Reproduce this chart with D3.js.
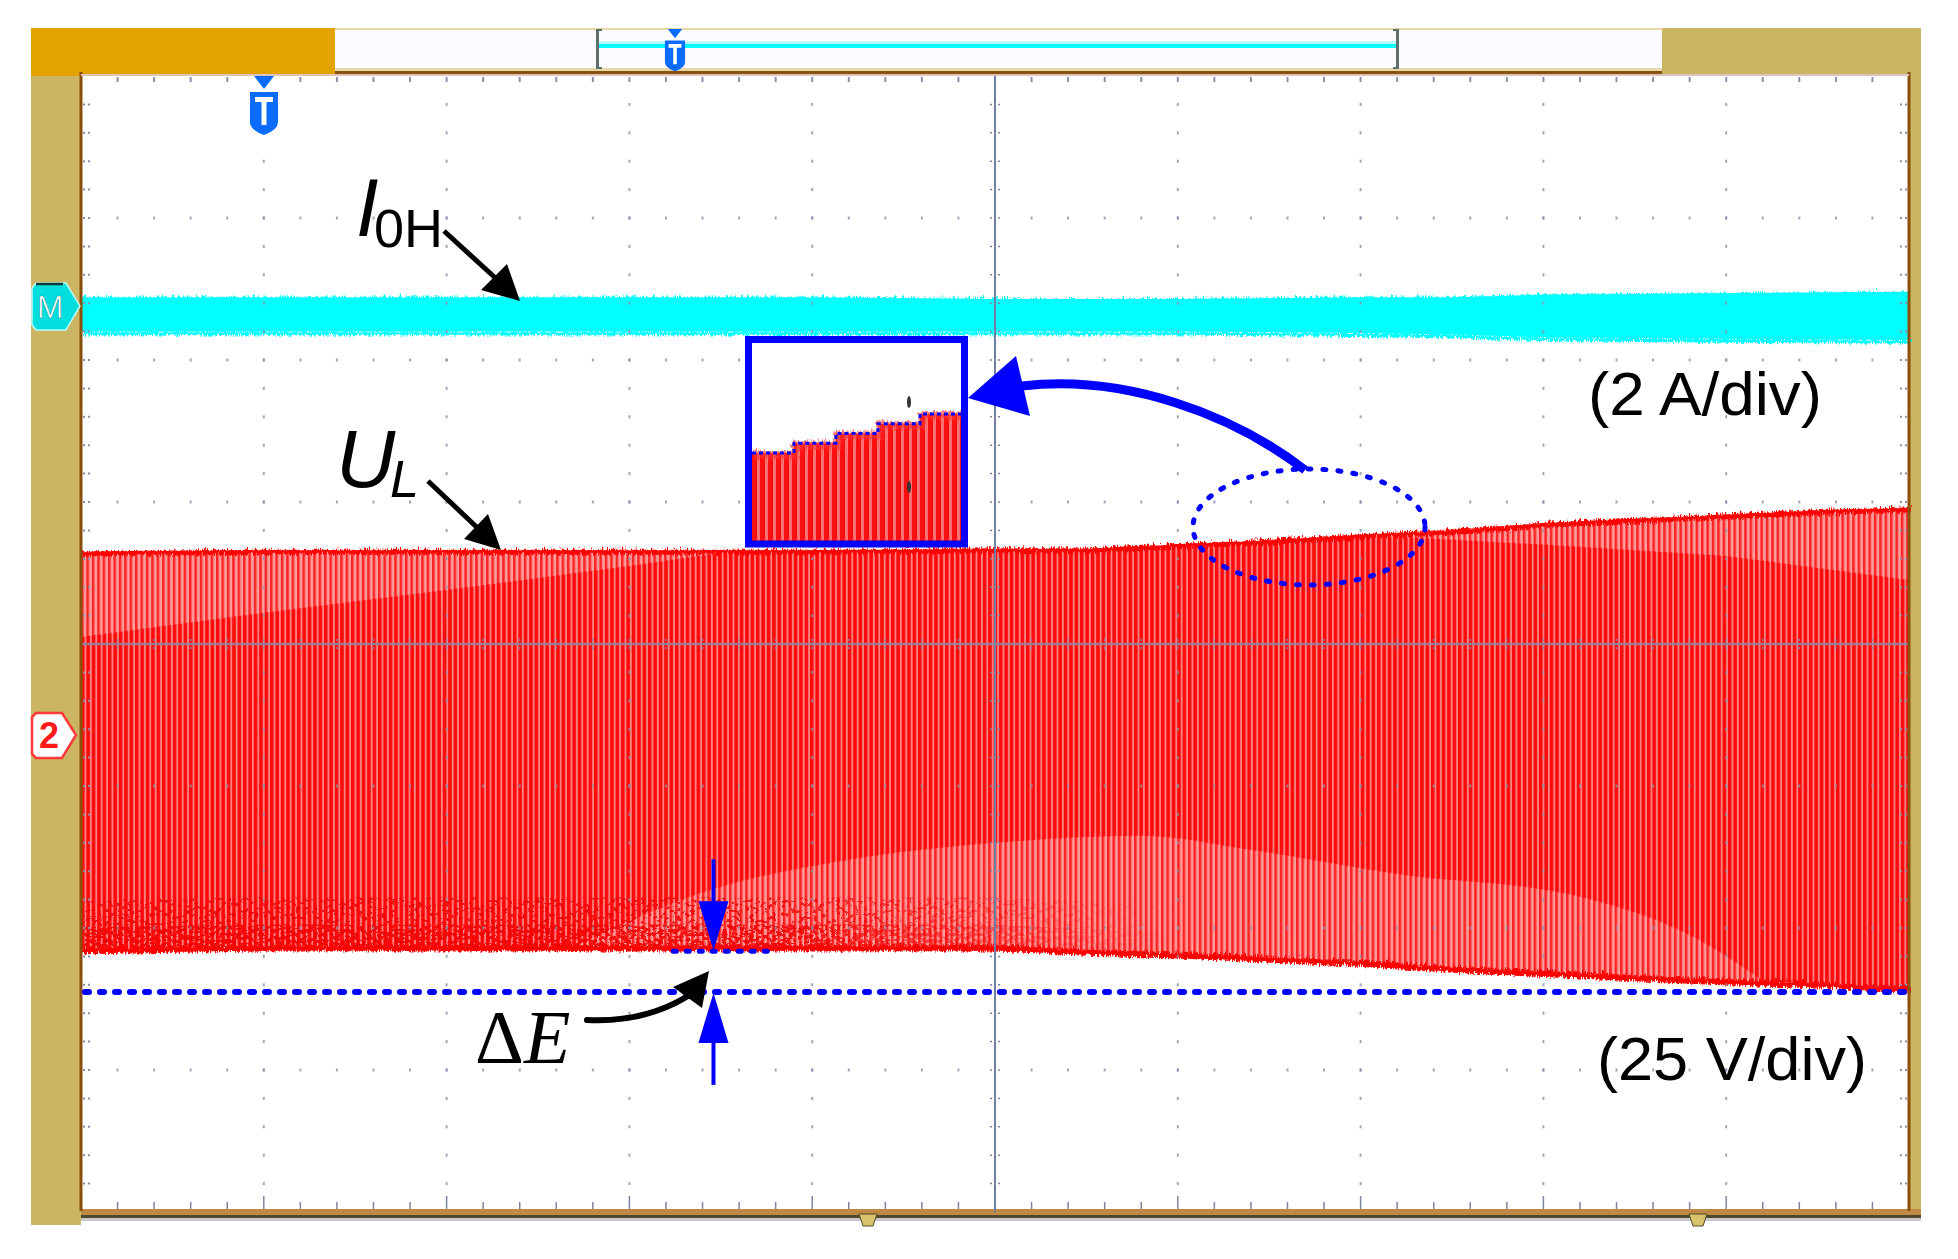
<!DOCTYPE html>
<html>
<head>
<meta charset="utf-8">
<script src="https://cdn.jsdelivr.net/npm/d3@7/dist/d3.min.js"></script>
<style>
body { margin: 0; background: #fff; }
svg { display: block; }
</style>
</head>
<body>
<script>
// scope screen is 10 x 8 divisions, all values read off the picture in divisions
// time in div (0..10), level in div from the centre line (+ is up)

// I0H trace (cyan band), 2 A/div
var iTime = [0, 1, 2, 3, 4, 5, 6, 7, 7.5, 8, 9, 10]
var iUpper = [2.44, 2.44, 2.44, 2.44, 2.44, 2.43, 2.43, 2.44, 2.44, 2.46, 2.47, 2.48]
var iLower = [2.20, 2.20, 2.20, 2.20, 2.20, 2.20, 2.20, 2.19, 2.18, 2.16, 2.15, 2.14]

// UL trace (red band), 25 V/div
var uTime = [0, 1, 2, 3, 4, 5, 5.5, 6, 6.5, 7, 7.5, 8, 8.5, 9, 9.5, 10]
var uUpper = [0.65, 0.66, 0.66, 0.66, 0.66, 0.67, 0.67, 0.70, 0.73, 0.77, 0.80, 0.85, 0.88, 0.91, 0.94, 0.96]
var uLower = [-2.15, -2.13, -2.13, -2.13, -2.13, -2.13, -2.16, -2.18, -2.21, -2.24, -2.28, -2.31, -2.34, -2.37, -2.39, -2.42]

// lighter (sparse) parts of the UL band
var lightTopTime = [0, 1, 2, 3, 3.6]
var lightTopLower = [0.05, 0.22, 0.38, 0.55, 0.66]
var lightRightTime = [7.0, 8.0, 9.0, 10]
var lightRightLower = [0.77, 0.70, 0.62, 0.45]
var lightMidTime = [2.7, 3.4, 4.2, 5.0, 5.8, 6.4, 7.2, 8.2, 8.8, 9.2]
var lightMidUpper = [-2.13, -1.75, -1.52, -1.40, -1.35, -1.45, -1.62, -1.78, -2.05, -2.37]

// dE markers
var dEupper = -2.15, dElower = -2.45, dETime = 3.46, dEFrom = 3.24, dETo = 3.77

// zoomed inset: step levels
var insetLevel = [0, 1, 2, 3, 4]

var W = 1958, H = 1259
var plot = {left: 81, top: 76, right: 1909, bottom: 1212}

var x = d3.scaleLinear().domain([0, 10]).range([plot.left, plot.right])
var y = d3.scaleLinear().domain([-4, 4]).range([plot.bottom, plot.top])

var svg = d3.select("body").append("svg").attr("width", W).attr("height", H)
var defs = svg.append("defs")

var stripes = defs.append("pattern").attr("id", "ulStripes")
    .attr("patternUnits", "userSpaceOnUse").attr("width", 5.4).attr("height", 20)
stripes.append("rect").attr("width", 5.4).attr("height", 20).attr("fill", "#ff8080")
stripes.append("rect").attr("width", 3.5).attr("height", 20).attr("fill", "#ff0a0a")

var light = defs.append("pattern").attr("id", "ulLight")
    .attr("patternUnits", "userSpaceOnUse").attr("width", 5.4).attr("height", 20)
light.append("rect").attr("width", 5.4).attr("height", 20).attr("fill", "#ffa6a6")
light.append("rect").attr("width", 2.4).attr("height", 20).attr("fill", "#ff2a2a")

var inStripes = defs.append("pattern").attr("id", "inStripes")
    .attr("patternUnits", "userSpaceOnUse").attr("width", 8).attr("height", 20)
inStripes.append("rect").attr("width", 8).attr("height", 20).attr("fill", "#ff7070")
inStripes.append("rect").attr("width", 5).attr("height", 20).attr("fill", "#ff1010")

var rough = defs.append("filter").attr("id", "rough")
    .attr("filterUnits", "userSpaceOnUse").attr("x", 0).attr("y", 0).attr("width", W).attr("height", H)
rough.append("feTurbulence").attr("type", "turbulence").attr("baseFrequency", "0.45 0.12")
    .attr("numOctaves", 2).attr("seed", 4).attr("result", "n")
rough.append("feDisplacementMap").attr("in", "SourceGraphic").attr("in2", "n")
    .attr("scale", 7).attr("xChannelSelector", "R").attr("yChannelSelector", "G")

// speckled noise on the lower edge of UL (dense and sparse variant)
function speckleFilter(id, seed, cut) {
    var f = defs.append("filter").attr("id", id)
        .attr("filterUnits", "userSpaceOnUse").attr("x", 0).attr("y", 0).attr("width", W).attr("height", H)
    f.append("feTurbulence").attr("type", "fractalNoise").attr("baseFrequency", "0.22 0.3")
        .attr("numOctaves", 2).attr("seed", seed).attr("result", "n")
    f.append("feColorMatrix").attr("in", "n").attr("type", "matrix")
        .attr("values", "0 0 0 0 0  0 0 0 0 0  0 0 0 0 0  6 0 0 0 " + (-6 * cut + 0.5)).attr("result", "a")
    f.append("feComponentTransfer").attr("in", "a").attr("result", "b")
        .append("feFuncA").attr("type", "discrete").attr("tableValues", "0 1")
    f.append("feComposite").attr("in", "SourceGraphic").attr("in2", "b").attr("operator", "in")
}
speckleFilter("speckleDense", 5, 0.5)
speckleFilter("speckleSparse", 9, 0.6)

// the noise fades out towards the middle of the screen
var fade = defs.append("linearGradient").attr("id", "fadeGrad")
    .attr("gradientUnits", "userSpaceOnUse").attr("x1", x(3.8)).attr("x2", x(6)).attr("y1", 0).attr("y2", 0)
fade.append("stop").attr("offset", 0).attr("stop-color", "#fff")
fade.append("stop").attr("offset", 1).attr("stop-color", "#000")
defs.append("mask").attr("id", "fadeMask").attr("maskUnits", "userSpaceOnUse")
    .attr("x", 0).attr("y", 0).attr("width", W).attr("height", H)
    .append("rect").attr("width", W).attr("height", H).attr("fill", "url(#fadeGrad)")

// ---------- frame ----------
var frame = svg.append("g")
frame.append("rect").attr("x", 31).attr("y", 28).attr("width", 50).attr("height", 1197).attr("fill", "#cbb563")
frame.append("rect").attr("x", 1662).attr("y", 28).attr("width", 259).attr("height", 48).attr("fill", "#cbb563")
frame.append("rect").attr("x", 1909).attr("y", 28).attr("width", 12).attr("height", 1188).attr("fill", "#cbb563")
frame.append("rect").attr("x", 31).attr("y", 28).attr("width", 304).attr("height", 48).attr("fill", "#e2a200")
frame.append("rect").attr("x", 335).attr("y", 28).attr("width", 1327).attr("height", 48).attr("fill", "#e6d7a6")
frame.append("rect").attr("x", 335).attr("y", 30).attr("width", 1327).attr("height", 38).attr("fill", "#fdfbff")
frame.append("rect").attr("x", 81).attr("y", 1209).attr("width", 1840).attr("height", 6).attr("fill", "#bf8a45")
frame.append("rect").attr("x", 81).attr("y", 1215).attr("width", 1840).attr("height", 3).attr("fill", "#4f4a2c")
frame.append("rect").attr("x", 81).attr("y", 1218).attr("width", 1840).attr("height", 3).attr("fill", "#c8c8cc")

// timeline bar in the top strip
var tl = svg.append("g")
tl.append("rect").attr("x", 597).attr("y", 44).attr("width", 800).attr("height", 4).attr("fill", "#00ffff")
tl.append("rect").attr("x", 597).attr("y", 41).attr("width", 800).attr("height", 3).attr("fill", "#b8ffff")
;[596, 1396].forEach(function(bx, i) {
    tl.append("rect").attr("x", bx).attr("y", 29).attr("width", 3).attr("height", 40).attr("fill", "#5e6f6a")
    tl.append("rect").attr("x", i ? bx - 3 : bx).attr("y", 29).attr("width", 6).attr("height", 2).attr("fill", "#5e6f6a")
    tl.append("rect").attr("x", i ? bx - 3 : bx).attr("y", 67).attr("width", 6).attr("height", 2).attr("fill", "#5e6f6a")
})

function trigMark(g, cx, top, s) {
    g.append("path")
        .attr("d", "M" + (cx - 10 * s) + "," + top + "L" + (cx + 10 * s) + "," + top + "L" + cx + "," + (top + 13 * s) + "Z")
        .attr("fill", "#0a6cff")
    var t = top + 16 * s
    g.append("path")
        .attr("d", "M" + (cx - 14 * s) + "," + t + "L" + (cx + 14 * s) + "," + t +
            "L" + (cx + 14 * s) + "," + (t + 30 * s) + "Q" + (cx + 14 * s) + "," + (t + 38 * s) + " " + cx + "," + (t + 43 * s) +
            "Q" + (cx - 14 * s) + "," + (t + 38 * s) + " " + (cx - 14 * s) + "," + (t + 30 * s) + "Z")
        .attr("fill", "#0a6cff")
    g.append("path")
        .attr("d", "M" + (cx - 9 * s) + "," + (t + 5 * s) + "L" + (cx + 9 * s) + "," + (t + 5 * s) +
            "L" + (cx + 9 * s) + "," + (t + 10 * s) + "L" + (cx + 2.5 * s) + "," + (t + 10 * s) +
            "L" + (cx + 2.5 * s) + "," + (t + 33 * s) + "L" + (cx - 2.5 * s) + "," + (t + 33 * s) +
            "L" + (cx - 2.5 * s) + "," + (t + 10 * s) + "L" + (cx - 9 * s) + "," + (t + 10 * s) + "Z")
        .attr("fill", "#ffffff")
}
trigMark(tl, 675, 29, 0.72)

// ---------- traces ----------
var traces = svg.append("g")

var uData = uTime.map(function(t, i) { return {t: t, hi: uUpper[i], lo: uLower[i]} })
var uArea = d3.area().x(function(d) { return x(d.t) }).y0(function(d) { return y(d.lo) }).y1(function(d) { return y(d.hi) })
traces.append("path").datum(uData).attr("d", uArea).attr("fill", "url(#ulStripes)")

var uTopFn = d3.scaleLinear().domain(uTime).range(uUpper)
var uLowFn = d3.scaleLinear().domain(uTime).range(uLower)

var lt = lightTopTime.map(function(t, i) { return {t: t, hi: uTopFn(t), lo: lightTopLower[i]} })
traces.append("path").datum(lt).attr("d", uArea).attr("fill", "url(#ulLight)").attr("opacity", 0.8)
var lr = lightRightTime.map(function(t, i) { return {t: t, hi: uTopFn(t), lo: lightRightLower[i]} })
traces.append("path").datum(lr).attr("d", uArea).attr("fill", "url(#ulLight)").attr("opacity", 0.8)
var lm = lightMidTime.map(function(t, i) { return {t: t, hi: lightMidUpper[i], lo: uLowFn(t)} })
traces.append("path").datum(lm).attr("d", uArea.curve(d3.curveMonotoneX)).attr("fill", "url(#ulLight)").attr("opacity", 0.75)
uArea.curve(d3.curveLinear)

// noisy edges of the red band
var topLine = d3.line().x(function(d) { return x(d.t) }).y(function(d) { return y(d.hi) })
var lowLine = d3.line().x(function(d) { return x(d.t) }).y(function(d) { return y(d.lo) })
traces.append("path").datum(uData).attr("d", topLine).attr("fill", "none")
    .attr("stroke", "#ff0000").attr("stroke-width", 5).attr("filter", "url(#rough)")
var noisy = uData.filter(function(d) { return d.t <= 6.5 })
var noise = traces.append("g").attr("mask", "url(#fadeMask)")
noise.append("path").datum(noisy)
    .attr("d", d3.line().x(function(d) { return x(d.t) }).y(function(d) { return y(d.lo) - 36 }))
    .attr("fill", "none").attr("stroke", "#ee0000").attr("stroke-width", 26).attr("stroke-opacity", 0.8)
    .attr("filter", "url(#speckleSparse)")
noise.append("path").datum(noisy)
    .attr("d", d3.line().x(function(d) { return x(d.t) }).y(function(d) { return y(d.lo) - 10 }))
    .attr("fill", "none").attr("stroke", "#ee0000").attr("stroke-width", 24).attr("stroke-opacity", 0.85)
    .attr("filter", "url(#speckleDense)")
traces.append("path").datum(uData).attr("d", lowLine).attr("fill", "none")
    .attr("stroke", "#ff0000").attr("stroke-width", 6).attr("filter", "url(#rough)")

var iData = iTime.map(function(t, i) { return {t: t, hi: iUpper[i], lo: iLower[i]} })
traces.append("path").datum(iData).attr("d", uArea).attr("fill", "#00ffff")
traces.append("path").datum(iData).attr("d", topLine).attr("fill", "none")
    .attr("stroke", "#00ffff").attr("stroke-width", 4).attr("filter", "url(#rough)")
traces.append("path").datum(iData).attr("d", lowLine).attr("fill", "none")
    .attr("stroke", "#00ffff").attr("stroke-width", 4).attr("filter", "url(#rough)")

// ---------- graticule ----------
var grid = svg.append("g")
var dotColor = "#8a90aa"
var minorX = d3.range(0, 10.001, 0.2), minorY = d3.range(-4, 4.001, 0.2)
var majorX = d3.range(1, 10), majorY = d3.range(-3, 4)

majorX.filter(function(d) { return d !== 5 }).forEach(function(mx) {
    grid.selectAll(null).data(minorY.slice(1, -1)).enter().append("rect")
        .attr("x", x(mx) - 1).attr("y", function(d) { return y(d) - 1.5 })
        .attr("width", 2).attr("height", 3).attr("fill", dotColor).attr("opacity", 0.8)
})
majorY.filter(function(d) { return d !== 0 }).forEach(function(my) {
    grid.selectAll(null).data(minorX.slice(1, -1)).enter().append("rect")
        .attr("x", function(d) { return x(d) - 1 }).attr("y", y(my) - 1.5)
        .attr("width", 2).attr("height", 3).attr("fill", dotColor).attr("opacity", 0.8)
})
// edge ticks
grid.selectAll(null).data(minorY.slice(1, -1)).enter().append("line")
    .attr("x1", plot.left + 2).attr("x2", plot.left + 9)
    .attr("y1", function(d) { return y(d) }).attr("y2", function(d) { return y(d) })
    .attr("stroke", dotColor).attr("stroke-width", 2).attr("stroke-dasharray", "2,3")
grid.selectAll(null).data(minorY.slice(1, -1)).enter().append("line")
    .attr("x1", plot.right - 2).attr("x2", plot.right - 9)
    .attr("y1", function(d) { return y(d) }).attr("y2", function(d) { return y(d) })
    .attr("stroke", dotColor).attr("stroke-width", 2).attr("stroke-dasharray", "2,3")
grid.selectAll(null).data(minorX.slice(1, -1)).enter().append("line")
    .attr("x1", function(d) { return x(d) }).attr("x2", function(d) { return x(d) })
    .attr("y1", plot.top + 1).attr("y2", plot.top + 6)
    .attr("stroke", dotColor).attr("stroke-width", 2)
grid.selectAll(null).data(minorX.slice(1, -1)).enter().append("line")
    .attr("x1", function(d) { return x(d) }).attr("x2", function(d) { return x(d) })
    .attr("y1", plot.bottom - 3).attr("y2", function(d) { return plot.bottom - (Math.abs(d - Math.round(d)) < 1e-6 ? 16 : 10) })
    .attr("stroke", "#7d84a0").attr("stroke-width", 1.5)

// centre cross
grid.append("line").attr("x1", x(5)).attr("x2", x(5)).attr("y1", plot.top).attr("y2", plot.bottom)
    .attr("stroke", "#6f7ea6").attr("stroke-width", 2)
grid.append("line").attr("x1", plot.left).attr("x2", plot.right).attr("y1", y(0)).attr("y2", y(0))
    .attr("stroke", "#8c8aa6").attr("stroke-width", 2.5).attr("stroke-opacity", 0.85)
grid.selectAll(null).data(minorY.slice(1, -1)).enter().append("line")
    .attr("x1", x(5) - 5).attr("x2", x(5) + 5)
    .attr("y1", function(d) { return y(d) }).attr("y2", function(d) { return y(d) })
    .attr("stroke", "#7d84a6").attr("stroke-width", 1.5).attr("stroke-dasharray", "2,2")
grid.selectAll(null).data(minorX.slice(1, -1)).enter().append("line")
    .attr("x1", function(d) { return x(d) }).attr("x2", function(d) { return x(d) })
    .attr("y1", y(0) - 5).attr("y2", y(0) + 5)
    .attr("stroke", "#7d84a6").attr("stroke-width", 1.5).attr("stroke-dasharray", "2,2")

// plot border
var border = svg.append("g").attr("fill", "none")
border.append("line").attr("x1", plot.left).attr("x2", plot.left).attr("y1", 72).attr("y2", 1211)
    .attr("stroke", "#8a4f0a").attr("stroke-width", 3)
border.append("line").attr("x1", plot.right).attr("x2", plot.right).attr("y1", 72).attr("y2", 1211)
    .attr("stroke", "#8a4f0a").attr("stroke-width", 3)
border.append("line").attr("x1", 335).attr("x2", 1662).attr("y1", 72.5).attr("y2", 72.5)
    .attr("stroke", "#8a4f0a").attr("stroke-width", 3)
border.append("line").attr("x1", plot.left).attr("x2", plot.right).attr("y1", 75).attr("y2", 75)
    .attr("stroke", "#dcc4bc").attr("stroke-width", 2)

// bottom small markers
;[868, 1698].forEach(function(mx) {
    svg.append("path").attr("d", "M" + (mx - 9) + ",1214L" + (mx + 9) + ",1214L" + (mx + 5) + ",1226L" + (mx - 5) + ",1226Z")
        .attr("fill", "#d8c26a").attr("stroke", "#4f4a2c").attr("stroke-width", 1)
})

// channel markers
var mk = svg.append("g")
mk.append("path").attr("d", "M36,283L66,283L80,306L66,330L36,330L32,325L32,288Z")
    .attr("fill", "#00dede").attr("stroke", "#bdfcfc").attr("stroke-width", 1.5)
mk.append("line").attr("x1", 36).attr("x2", 63).attr("y1", 284).attr("y2", 284).attr("stroke", "#0a3a3a").attr("stroke-width", 2.5)
mk.append("text").attr("x", 50).attr("y", 318).attr("text-anchor", "middle")
    .attr("font-family", "Liberation Sans, Arial, sans-serif").attr("font-size", 32)
    .attr("fill", "#ffffff").attr("stroke", "#00a0a0").attr("stroke-width", 0.6).text("M")
mk.append("path").attr("d", "M36,713L62,713L76,735L62,758L36,758L32,754L32,717Z")
    .attr("fill", "#ffffff").attr("stroke", "#ff3a3a").attr("stroke-width", 2.5)
mk.append("text").attr("x", 49).attr("y", 748).attr("text-anchor", "middle")
    .attr("font-family", "Liberation Sans, Arial, sans-serif").attr("font-size", 36).attr("font-weight", "bold")
    .attr("fill", "#ff1a1a").text("2")

trigMark(svg.append("g"), 264, 76, 1)

// ---------- annotations ----------
var ann = svg.append("g")
var sans = "Liberation Sans, Arial, Helvetica, sans-serif"

function arrowHead(g, tip, base1, base2, color) {
    g.append("path").attr("d", "M" + tip + "L" + base1 + "L" + base2 + "Z").attr("fill", color)
}

// I0H label and arrow
var lab1 = ann.append("text").attr("x", 356).attr("y", 236).attr("font-family", sans).attr("fill", "#000")
lab1.append("tspan").attr("font-size", 81).attr("font-style", "italic").text("I")
lab1.append("tspan").attr("x", 374).attr("y", 247).attr("font-size", 54).text("0H")
ann.append("line").attr("x1", 444).attr("y1", 231).attr("x2", 502).attr("y2", 284)
    .attr("stroke", "#000").attr("stroke-width", 5)
arrowHead(ann, [520, 301], [481, 290], [507, 264], "#000")

// UL label and arrow
var lab2 = ann.append("text").attr("x", 336).attr("y", 487).attr("font-family", sans).attr("fill", "#000")
lab2.append("tspan").attr("font-size", 82).attr("font-style", "italic").text("U")
lab2.append("tspan").attr("x", 390).attr("y", 497).attr("font-size", 52).attr("font-style", "italic").text("L")
ann.append("line").attr("x1", 428).attr("y1", 481).attr("x2", 485).attr("y2", 535)
    .attr("stroke", "#000").attr("stroke-width", 5)
arrowHead(ann, [501, 550], [464, 539], [488, 514], "#000")

// scale labels
ann.append("text").attr("x", 1588).attr("y", 415).attr("font-family", sans).attr("font-size", 62)
    .attr("textLength", 234).attr("lengthAdjust", "spacingAndGlyphs").attr("fill", "#000").text("(2 A/div)")
ann.append("text").attr("x", 1597).attr("y", 1080).attr("font-family", sans).attr("font-size", 62)
    .attr("textLength", 270).attr("lengthAdjust", "spacingAndGlyphs").attr("fill", "#000").text("(25 V/div)")

// dE reference lines
var blue = "#0000ff"
ann.append("line").attr("x1", plot.left + 4).attr("x2", plot.right - 4).attr("y1", y(dElower)).attr("y2", y(dElower))
    .attr("stroke", blue).attr("stroke-width", 6).attr("stroke-linecap", "round").attr("stroke-dasharray", "4,11")
ann.append("line").attr("x1", x(dEFrom)).attr("x2", x(dETo)).attr("y1", y(dEupper) + 2).attr("y2", y(dEupper) + 2)
    .attr("stroke", blue).attr("stroke-width", 5).attr("stroke-linecap", "round").attr("stroke-dasharray", "3,10")
var ax = x(dETime)
ann.append("line").attr("x1", ax).attr("x2", ax).attr("y1", y(dEupper) - 90).attr("y2", y(dEupper) - 46)
    .attr("stroke", blue).attr("stroke-width", 4)
arrowHead(ann, [ax, y(dEupper) + 1], [ax - 15, y(dEupper) - 48], [ax + 15, y(dEupper) - 48], blue)
ann.append("line").attr("x1", ax).attr("x2", ax).attr("y1", y(dElower) + 50).attr("y2", y(dElower) + 93)
    .attr("stroke", blue).attr("stroke-width", 4)
arrowHead(ann, [ax, y(dElower) + 1], [ax - 15, y(dElower) + 51], [ax + 15, y(dElower) + 51], blue)

var lab3 = ann.append("text").attr("x", 475).attr("y", 1063).attr("font-family", "Liberation Serif, Times New Roman, serif")
    .attr("font-size", 76).attr("fill", "#000")
lab3.append("tspan").text("\u0394")
lab3.append("tspan").attr("font-style", "italic").text("E")
ann.append("path").attr("d", "M587,1020C628,1022 662,1012 688,996").attr("fill", "none")
    .attr("stroke", "#000").attr("stroke-width", 6).attr("stroke-linecap", "round")
arrowHead(ann, [709, 971], [673, 987], [702, 1008], "#000")

// dotted ellipse and curved arrow to the zoomed view
ann.append("ellipse").attr("cx", 1309).attr("cy", 527).attr("rx", 116).attr("ry", 58)
    .attr("fill", "none").attr("stroke", blue).attr("stroke-width", 5)
    .attr("stroke-linecap", "round").attr("stroke-dasharray", "3,12")
ann.append("path").attr("d", "M1305,470C1232,414 1125,374 1022,386").attr("fill", "none")
    .attr("stroke", blue).attr("stroke-width", 9)
arrowHead(ann, [968, 398], [1016, 356], [1030, 416], blue)

// zoomed inset
var ins = ann.append("g")
var inBox = {x0: 752, x1: 962, y0: 343, y1: 541}
ins.append("rect").attr("x", inBox.x0).attr("y", inBox.y0).attr("width", inBox.x1 - inBox.x0)
    .attr("height", inBox.y1 - inBox.y0).attr("fill", "#fff")
var sx = d3.scaleLinear().domain([0, insetLevel.length]).range([inBox.x0, inBox.x1])
var sy = d3.scaleLinear().domain([0, 4]).range([453, 414])
var stair = []
insetLevel.forEach(function(l, i) { stair.push([sx(i), sy(l)], [sx(i + 1), sy(l)]) })
var stairArea = stair.concat([[inBox.x1, inBox.y1], [inBox.x0, inBox.y1]])
ins.append("path").attr("d", "M" + stairArea.join("L") + "Z").attr("fill", "url(#inStripes)")
ins.append("path").attr("d", "M" + stair.join("L")).attr("fill", "none")
    .attr("stroke", "#ff3030").attr("stroke-width", 8).attr("stroke-opacity", 0.6).attr("filter", "url(#rough)")
ins.append("path").attr("d", "M" + stair.join("L")).attr("fill", "none")
    .attr("stroke", blue).attr("stroke-width", 3).attr("stroke-dasharray", "4,3")
ins.append("ellipse").attr("cx", 909).attr("cy", 402).attr("rx", 2).attr("ry", 6).attr("fill", "#333")
ins.append("ellipse").attr("cx", 909).attr("cy", 487).attr("rx", 2).attr("ry", 6).attr("fill", "#333")
ins.append("rect").attr("x", 748.5).attr("y", 339.5).attr("width", 216).attr("height", 204.5)
    .attr("fill", "none").attr("stroke", blue).attr("stroke-width", 7)
</script>
</body>
</html>
